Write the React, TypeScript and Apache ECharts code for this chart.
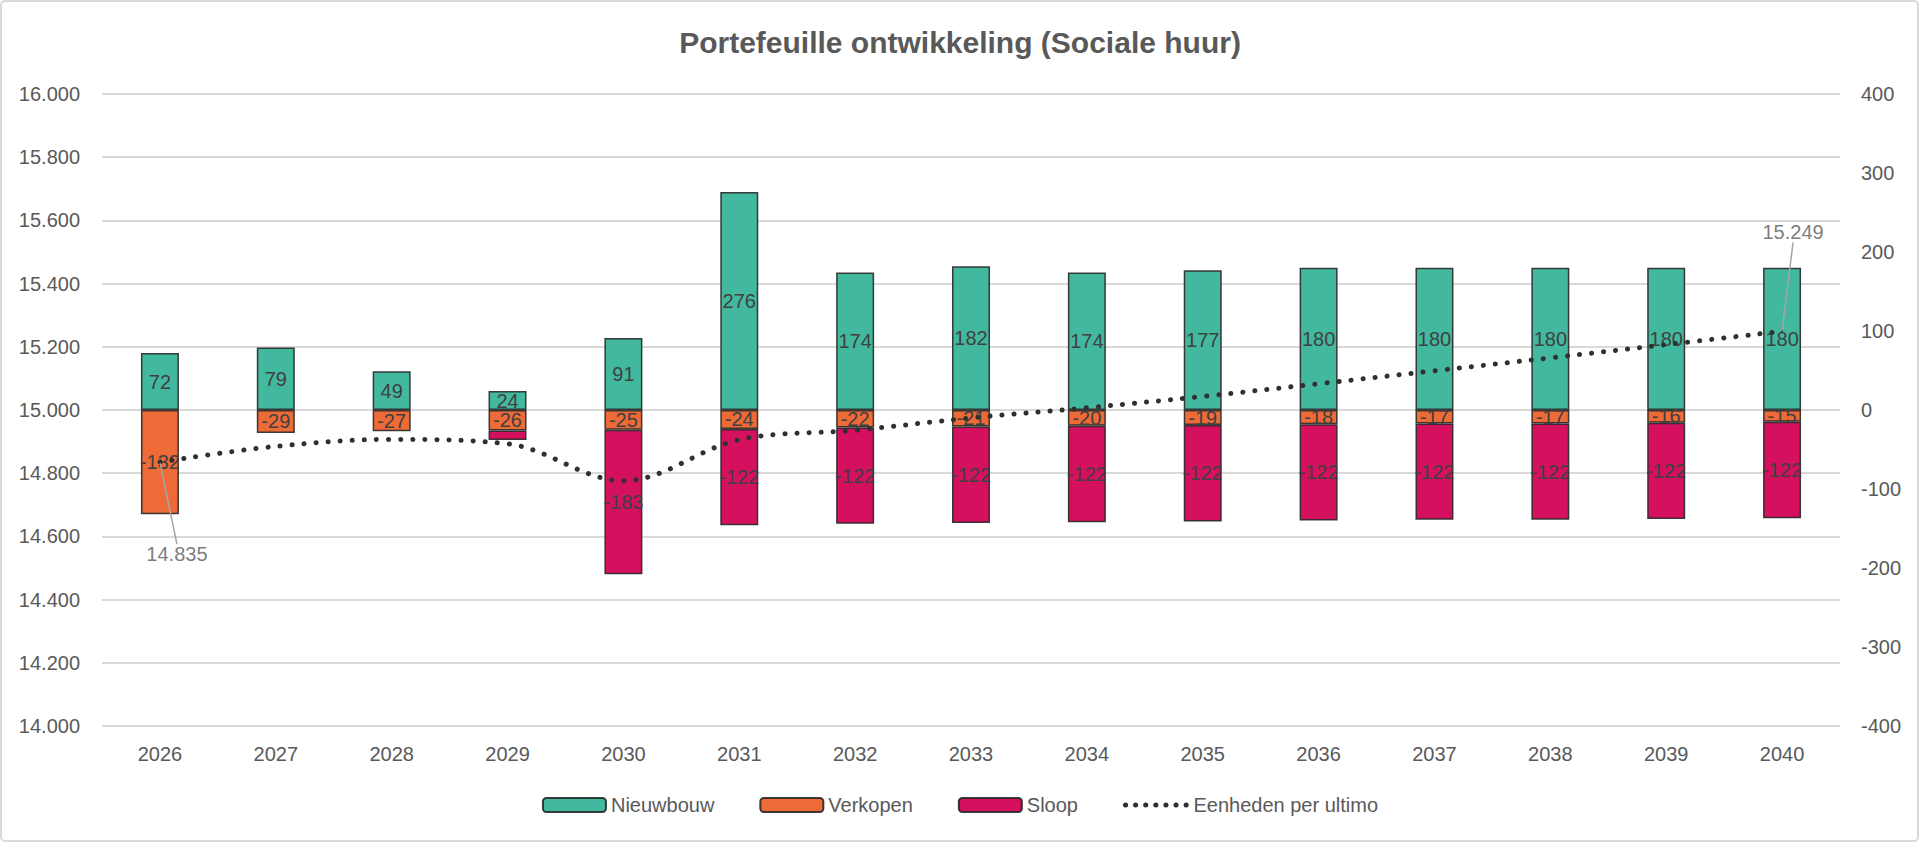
import React, { useEffect, useRef } from "react";
import * as echarts from "echarts";

const categories = ["2026", "2027", "2028", "2029", "2030", "2031", "2032", "2033", "2034", "2035", "2036", "2037", "2038", "2039", "2040"];
const nieuwbouw = [72, 79, 49, 24, 91, 276, 174, 182, 174, 177, 180, 180, 180, 180, 180];
const verkopen = [-132, -29, -27, -26, -25, -24, -22, -21, -20, -19, -18, -17, -17, -16, -15];
const sloop: (number | null)[] = [null, null, null, -12, -183, -122, -122, -122, -122, -122, -122, -122, -122, -122, -122];
const eenheden = [14835, 14885, 14907, 14893, 14776, 14906, 14936, 14975, 15007, 15043, 15083, 15124, 15165, 15207, 15249];

const leftAxis = { min: 14000, max: 16000, interval: 200 };
const rightAxis = { min: -400, max: 400, interval: 100 };

const FONT = "'Liberation Sans', Arial, sans-serif";
const TEXT = "#595959";

const fmt = (v: number) => String(v).replace(/\B(?=(\d{3})+(?!\d))/g, ".");

export default function App() {
  const ref = useRef<HTMLDivElement>(null);
  useEffect(() => {
    if (!ref.current) return;
    const chart = echarts.init(ref.current, undefined, { renderer: "svg" });
    const barLabel = {
      show: true,
      position: "inside",
      color: "#404040",
      fontSize: 20,
      fontFamily: FONT,
    };
    const border = { borderColor: "rgba(40,40,40,0.9)", borderWidth: 1.5 };
    // Excel shows no label on the tiny 2029 Sloop segment
    const sloopData = sloop.map((v) => (v !== null && Math.abs(v) < 15 ? { value: v, label: { show: false } } : v));
    chart.setOption({
      animation: false,
      backgroundColor: "#ffffff",
      title: {
        text: "Portefeuille ontwikkeling (Sociale huur)",
        left: "center",
        top: 27,
        padding: 0,
        textStyle: { color: TEXT, fontSize: 30, fontWeight: "bold", fontFamily: FONT },
      },
      graphic: [
        {
          type: "rect",
          shape: { x: 1, y: 1, width: 1917, height: 840, r: 4 },
          style: { fill: "none", stroke: "#d9d9d9", lineWidth: 2 },
          silent: true,
        },
      ],
      grid: { left: 102, right: 80, top: 94, bottom: 117 },
      legend: {
        data: [
          "Nieuwbouw",
          "Verkopen",
          "Sloop",
          {
            name: "Eenheden per ultimo",
            itemStyle: { color: "rgba(0,0,0,0)", opacity: 0, borderWidth: 0 },
            lineStyle: { width: 5, type: [0.1, 10], cap: "round", color: "#303030" },
          },
        ],
        left: "center",
        top: 795,
        padding: 0,
        itemWidth: 63,
        itemHeight: 14,
        itemGap: 45,
        textStyle: { color: TEXT, fontSize: 20, fontFamily: FONT },
      },
      xAxis: {
        type: "category",
        data: categories,
        axisLine: { show: false },
        axisTick: { show: false },
        axisLabel: { color: TEXT, fontSize: 20, fontFamily: FONT, margin: 18 },
      },
      yAxis: [
        {
          type: "value",
          min: leftAxis.min,
          max: leftAxis.max,
          interval: leftAxis.interval,
          axisLine: { show: false },
          axisTick: { show: false },
          axisLabel: { color: TEXT, fontSize: 20, fontFamily: FONT, margin: 22, formatter: (v: number) => fmt(v) },
          splitLine: { lineStyle: { color: "#d9d9d9", width: 2 } },
        },
        {
          type: "value",
          position: "right",
          min: rightAxis.min,
          max: rightAxis.max,
          interval: rightAxis.interval,
          axisLine: { show: false },
          axisTick: { show: false },
          axisLabel: { color: TEXT, fontSize: 20, fontFamily: FONT, margin: 21 },
          splitLine: { show: false },
        },
      ],
      series: [
        {
          name: "Nieuwbouw",
          type: "bar",
          yAxisIndex: 1,
          stack: "a",
          barWidth: 38,
          data: nieuwbouw,
          itemStyle: { color: "#42B99E", ...border },
          label: barLabel,
          z: 2,
        },
        {
          name: "Verkopen",
          type: "bar",
          yAxisIndex: 1,
          stack: "a",
          barWidth: 38,
          data: verkopen,
          itemStyle: { color: "#EE6A37", ...border },
          label: barLabel,
          z: 2,
        },
        {
          name: "Sloop",
          type: "bar",
          yAxisIndex: 1,
          stack: "a",
          barWidth: 38,
          data: sloopData,
          itemStyle: { color: "#D5105E", ...border },
          label: barLabel,
          z: 2,
        },
        {
          name: "Eenheden per ultimo",
          type: "line",
          yAxisIndex: 0,
          data: eenheden,
          smooth: 0.35,
          symbol: "none",
          showSymbol: false,
          lineStyle: { color: "#303030", width: 5, type: [0.1, 12], cap: "round" },
          itemStyle: { color: "#303030" },
          z: 5,
        },
        {
          name: "labels",
          type: "scatter",
          yAxisIndex: 0,
          symbolSize: 2,
          itemStyle: { color: "#303030" },
          data: [
            [categories[0], eenheden[0]],
            [categories[categories.length - 1], eenheden[eenheden.length - 1]],
          ],
          label: {
            show: true,
            position: "inside",
            color: TEXT,
            fontSize: 20,
            fontFamily: FONT,
            formatter: (p: any) => fmt(p.value[1]),
          },
          labelLine: { show: true, lineStyle: { color: "#a6a6a6", width: 1.5 } },
          labelLayout: (p: any) => (p.dataIndex === 0 ? { dx: 17, dy: 92 } : { dx: 11, dy: -99 }),
          z: 6,
        },
      ],
    });
    return () => chart.dispose();
  }, []);
  return (
    <div
      ref={ref}
      style={{ position: "fixed", left: 0, top: 0, width: 1920, height: 843, background: "#fff" }}
    />
  );
}
